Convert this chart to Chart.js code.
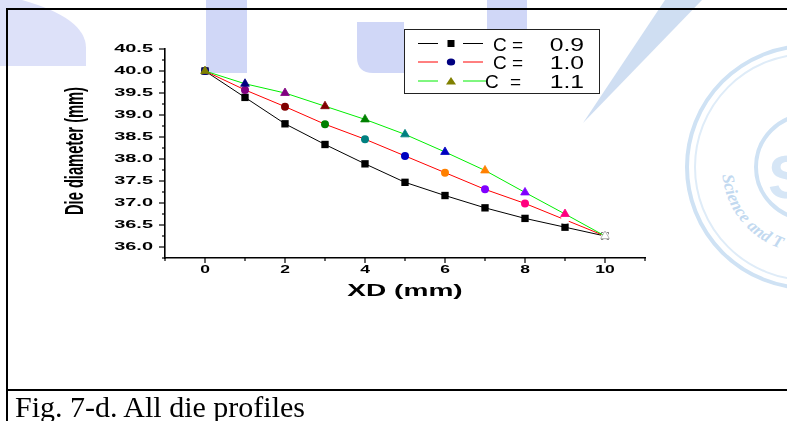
<!DOCTYPE html>
<html>
<head>
<meta charset="utf-8">
<script src="https://cdn.jsdelivr.net/npm/chart.js@4.4.0/dist/chart.umd.min.js"></script>
<style>
  html, body { margin: 0; padding: 0; background: #fff; }
  #wrap { position: relative; width: 787px; height: 421px; overflow: hidden; }
  #wm, #c { position: absolute; left: 0; top: 0; }
  .line { position: absolute; background: #000; }
  #caption { position: absolute; left: 15px; top: 392px; font: 30px "Liberation Serif", "Times New Roman", serif; line-height: 30px; white-space: nowrap; color: #000; }
</style>
</head>
<body>
<div id="wrap">
  <!-- faint watermark behind the figure -->
  <svg id="wm" width="787" height="421">
    <path d="M0,0 L22,0 Q86,18 86,48 L86,66 L0,66 Z" fill="#dde1f9"/>
    <rect x="206" y="0" width="41" height="73" fill="#d0d7f7"/>
    <path d="M357,22 L404,22 L404,73 L373,73 Q357,73 357,57 Z" fill="#d0d7f7"/>
    <rect x="487" y="0" width="40" height="30" fill="#d0d7f7"/>
    <polygon points="665,0 702,0 583,123" fill="#cfdef2"/>
    <circle cx="808" cy="167" r="121" fill="none" stroke="#cfe2f4" stroke-width="4"/>
    <circle cx="808" cy="167" r="113" fill="none" stroke="#dfecf8" stroke-width="2"/>
    <circle cx="808" cy="167" r="52" fill="none" stroke="#cfe2f4" stroke-width="4"/>
    <defs><path id="arc" d="M 722,167 A 86,86 0 0 0 808,253"/></defs>
    <text font-family="Liberation Serif" font-style="italic" font-weight="bold" font-size="17" fill="#c2d9f0">
      <textPath href="#arc" startOffset="8">Science and T</textPath>
    </text>
    <text x="768" y="198" font-family="Liberation Sans" font-weight="bold" font-size="62" fill="#d6e6f6">S</text>
  </svg>
  <canvas id="c" width="787" height="421"></canvas>
  <div class="line" style="left:7px;top:8px;width:780px;height:2px"></div>
  <div class="line" style="left:6px;top:8px;width:2px;height:413px"></div>
  <div class="line" style="left:7px;top:389px;width:780px;height:2px"></div>
  <div id="caption">Fig. 7-d. All die profiles</div>
</div>
<script>
// data
const xd = [0, 1, 2, 3, 4, 5, 6, 7, 8, 9, 10];
const c09 = [40.0, 39.40, 38.80, 38.33, 37.89, 37.47, 37.17, 36.89, 36.65, 36.45, 36.25];
const c10 = [40.0, 39.57, 39.19, 38.79, 38.45, 38.07, 37.69, 37.31, 36.99, 36.62, 36.25];
const c11 = [40.0, 39.71, 39.50, 39.20, 38.90, 38.56, 38.16, 37.74, 37.24, 36.75, 36.25];
const seriesLabels = ['C = 0.9', 'C = 1.0', 'C = 1.1'];
const xTickLabels = [0, 2, 4, 6, 8, 10];
const yTickLabels = [36.0, 36.5, 37.0, 37.5, 38.0, 38.5, 39.0, 39.5, 40.0, 40.5];
const xTitle = 'XD (mm)';
const yTitle = 'Die diameter (mm)';

// Origin style "vary colour" marker fills
const circleFill = ['#000080', '#800080', '#800000', '#008000', '#008080', '#0000c0', '#ff8000', '#8000ff', '#ff0080', '#ffffff', '#ffffff'];
const triFill = ['#808000', '#000080', '#800080', '#800000', '#008000', '#008080', '#0000c0', '#ff8000', '#8000ff', '#ff0080', '#ffffff'];
const edge = fills => fills.map((c, i) => (i === fills.length - 1 ? '#aaaaaa' : c));

const pts = ys => xd.map((x, i) => ({ x: x, y: ys[i] }));

const drawScaled = (ctx, text, x, y, font, sx, align, baseline) => {
  ctx.save();
  ctx.font = font;
  ctx.textAlign = align;
  ctx.textBaseline = baseline;
  ctx.translate(x, y);
  ctx.scale(sx, 1);
  ctx.fillText(text, 0, 0);
  ctx.restore();
};

const decor = {
  id: 'decor',
  afterDraw(chart) {
    const { ctx, chartArea: a, scales: { x, y } } = chart;
    ctx.save();
    ctx.strokeStyle = '#000';
    ctx.fillStyle = '#000';
    ctx.lineWidth = 1.2;

    // x ticks + labels
    x.ticks.forEach(t => {
      const px = x.getPixelForValue(t.value);
      const major = xTickLabels.includes(t.value);
      ctx.beginPath();
      ctx.moveTo(px, a.bottom);
      ctx.lineTo(px, a.bottom + (major ? 5 : 3));
      ctx.stroke();
      if (major) drawScaled(ctx, String(t.value), px, 270, 'bold 10px "Liberation Sans"', 1.75, 'center', 'middle');
    });

    // y ticks + labels
    y.ticks.forEach(t => {
      const py = y.getPixelForValue(t.value);
      const major = yTickLabels.includes(t.value);
      ctx.beginPath();
      ctx.moveTo(a.left, py);
      ctx.lineTo(a.left - (major ? 6 : 3), py);
      ctx.stroke();
      if (major) drawScaled(ctx, t.value.toFixed(1), 153, py, 'bold 10.5px "Liberation Sans"', 1.9, 'right', 'middle');
    });

    // axis titles
    drawScaled(ctx, xTitle, (a.left + a.right) / 2, 291, 'bold 17px "Liberation Sans"', 1.65, 'center', 'middle');
    ctx.save();
    ctx.translate(83, 151);
    ctx.rotate(-Math.PI / 2);
    ctx.font = 'bold 25px "Liberation Sans"';
    ctx.textAlign = 'center';
    ctx.textBaseline = 'alphabetic';
    ctx.fillText(yTitle, 0, 0, 128);
    ctx.restore();

    // legend box
    ctx.fillStyle = '#fff';
    ctx.fillRect(404, 29, 195, 64);
    ctx.strokeStyle = '#222';
    ctx.lineWidth = 1;
    ctx.strokeRect(404.5, 29.5, 195, 64);
    const rows = [43.5, 62, 81];
    chart.data.datasets.forEach((ds, i) => {
      const ry = rows[i];
      ctx.strokeStyle = ds.borderColor;
      ctx.lineWidth = 1;
      ctx.beginPath();
      ctx.moveTo(418, ry); ctx.lineTo(438, ry);
      ctx.moveTo(463, ry); ctx.lineTo(i === 2 ? 486 : 483, ry);
      ctx.stroke();
      const fill = Array.isArray(ds.pointBackgroundColor) ? ds.pointBackgroundColor[0] : ds.pointBackgroundColor;
      ctx.fillStyle = fill;
      ctx.beginPath();
      if (ds.pointStyle === 'rect') ctx.rect(447.5, ry - 3.5, 7, 7);
      else if (ds.pointStyle === 'circle') ctx.ellipse(451, ry, 4.2, 3.5, 0, 0, Math.PI * 2);
      else { ctx.moveTo(451, ry - 4); ctx.lineTo(456, ry + 3.5); ctx.lineTo(446, ry + 3.5); ctx.closePath(); }
      ctx.fill();
      const parts = seriesLabels[i].split('=');
      ctx.fillStyle = '#000';
      ctx.font = '19px "Liberation Sans"';
      ctx.textBaseline = 'alphabetic';
      ctx.textAlign = 'left';
      ctx.fillText(parts[0].trim(), i === 2 ? 485 : 493, ry + 7);
      ctx.fillText('=', i === 2 ? 510 : 512, ry + 7);
      drawScaled(ctx, parts[1].trim(), 584, ry + 7, '19px "Liberation Sans"', 1.3, 'right', 'alphabetic');
    });
    ctx.restore();
  }
};

const axisCommon = {
  type: 'linear',
  grid: { drawOnChartArea: false, drawTicks: false },
  border: { display: true, color: '#000', width: 1.6 }
};

new Chart(document.getElementById('c'), {
  type: 'line',
  data: {
    datasets: [
      {
        label: seriesLabels[0], data: pts(c09), order: 2,
        borderColor: '#000000', borderWidth: 1, pointStyle: 'rect',
        pointRadius: 5.2, pointBackgroundColor: '#000000', pointBorderColor: '#000000', pointBorderWidth: 0
      },
      {
        label: seriesLabels[1], data: pts(c10), order: 1,
        borderColor: '#ff0000', borderWidth: 1, pointStyle: 'circle',
        pointRadius: 4, pointBackgroundColor: circleFill, pointBorderColor: circleFill, pointBorderWidth: 0
      },
      {
        label: seriesLabels[2], data: pts(c11), order: 0,
        borderColor: '#00ee00', borderWidth: 1, pointStyle: 'triangle',
        pointRadius: 5, pointBackgroundColor: triFill, pointBorderColor: edge(triFill), pointBorderWidth: 0.8
      }
    ]
  },
  options: {
    responsive: false,
    animation: false,
    devicePixelRatio: 1,
    layout: { padding: { top: 49, right: 142, bottom: 0, left: 0 } },
    plugins: { legend: { display: false }, tooltip: { enabled: false } },
    scales: {
      x: Object.assign({}, axisCommon, {
        min: -1, max: 11,
        ticks: { stepSize: 1, display: false },
        afterFit: s => { s.height = 163; }
      }),
      y: Object.assign({}, axisCommon, {
        min: 35.75, max: 40.5,
        ticks: { stepSize: 0.25, display: false },
        afterFit: s => { s.width = 165; }
      })
    }
  },
  plugins: [decor]
});
</script>
</body>
</html>
